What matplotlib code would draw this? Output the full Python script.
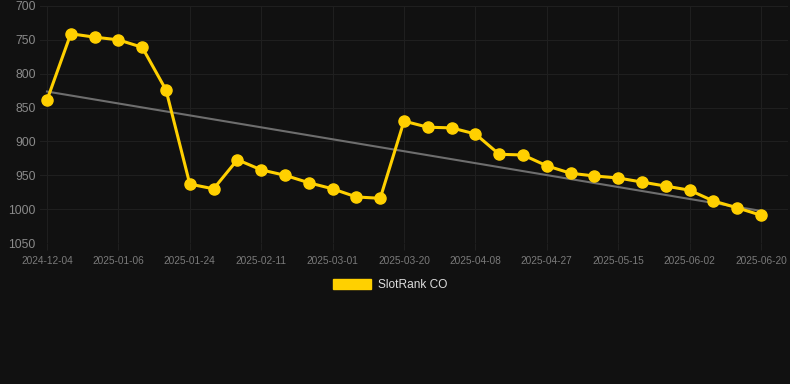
import matplotlib
matplotlib.use("Agg")
import matplotlib.pyplot as plt
import numpy as np
from matplotlib.patches import Patch

plt.rcParams['font.family'] = ['Liberation Sans', 'DejaVu Sans']

dates = ["2024-12-04", "", "", "2025-01-06", "", "", "2025-01-24", "", "",
         "2025-02-11", "", "", "2025-03-01", "", "", "2025-03-20", "", "",
         "2025-04-08", "", "", "2025-04-27", "", "", "2025-05-15", "", "",
         "2025-06-02", "", "", "2025-06-20"]
rank = [839, 741, 746, 750, 761, 824, 963, 970, 927, 942, 950, 961, 970, 982, 984,
        870, 879, 880, 889, 919, 920, 936, 947, 951, 954, 960, 966, 972, 988, 998, 1009]
series_name = "SlotRank CO"
yticks = [700, 750, 800, 850, 900, 950, 1000, 1050]

bg = "#111111"
gold = "#FFD000"

fig = plt.figure(figsize=(7.9, 3.84), dpi=100, facecolor=bg)
ax = fig.add_axes([40/790, 1-243/384, 748/790, 237/384], facecolor=bg)

x = np.arange(len(rank))
coef = np.polyfit(x, rank, 1)
trend = np.polyval(coef, x)
ax.plot([x[0], x[-1]], [trend[0], trend[-1]], color="#6e6e6e", lw=1.5, zorder=2)
ax.plot(x, rank, color=gold, lw=2.2, marker='o', ms=8, mfc=gold, mec=gold, zorder=3)

px = 714/30
ax.set_xlim(-7/px, 30 + 27/px)
ax.set_ylim(1050, 700)
ax.set_yticks(yticks)
ax.set_yticklabels([str(v) for v in yticks], color="#8a8a8a", fontsize=8.8)
tick_idx = [i for i, d in enumerate(dates) if d]
ax.set_xticks(tick_idx)
ax.set_xticklabels([dates[i] for i in tick_idx], color="#7a7a7a", fontsize=7.3)
ax.tick_params(axis='y', length=0, pad=3)
ax.tick_params(axis='x', length=5, color="#1f1f1f", width=0.75, pad=4)
ax.grid(True, color="#1f1f1f", lw=0.75)
ax.set_axisbelow(True)
for s in ax.spines.values():
    s.set_visible(False)

fig.legend(handles=[Patch(facecolor=gold, edgecolor=gold, label=series_name)],
           loc='center', bbox_to_anchor=(0.494, 1-285/384), frameon=False,
           handlelength=3.2, handleheight=0.9, handletextpad=0.55,
           labelcolor="#dddddd", fontsize=8.6)

fig.savefig("out.png", dpi=100, facecolor=bg)
